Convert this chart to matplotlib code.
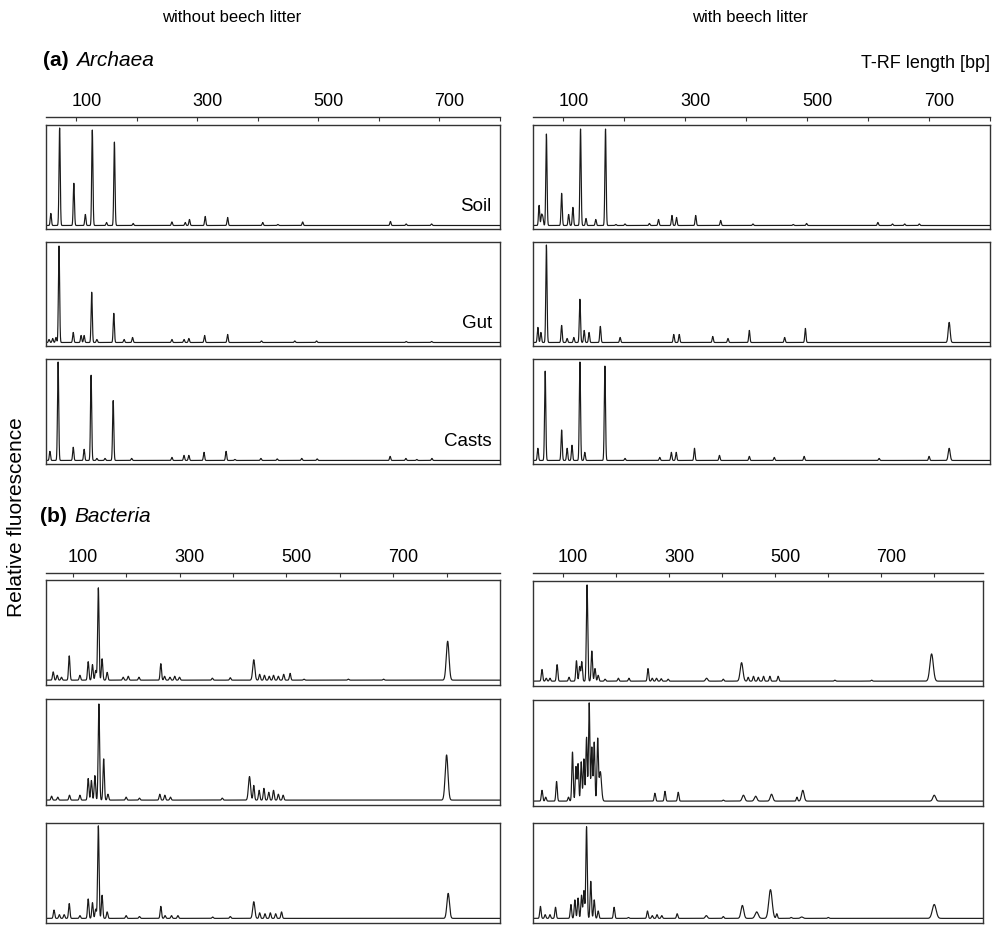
import numpy as np
import matplotlib
matplotlib.use("Agg")
import matplotlib.pyplot as plt
import matplotlib.transforms as mtransforms

plt.rcParams['font.family'] = ['Liberation Sans', 'DejaVu Sans']

# peaks: (T-RF length in bp, relative height[, width in bp])
arch_soil_wo = [(58, 0.12), (72.5, 0.97), (96, 0.42), (115, 0.11), (126.5, 0.95), (150, 0.03),
                (163, 0.83), (194, 0.02), (258, 0.035), (280, 0.03), (287, 0.06), (313, 0.09),
                (350, 0.08), (408, 0.03), (433, 0.01), (474, 0.035), (619, 0.04), (645, 0.015),
                (687, 0.015)]
arch_gut_wo = [(55, 0.03), (61, 0.04), (66.5, 0.05), (71.5, 0.96), (95, 0.1), (108, 0.07),
               (113, 0.07), (125.5, 0.5), (134, 0.03), (162, 0.29), (179, 0.03), (193, 0.05),
               (258, 0.03), (278, 0.03), (286, 0.04), (312, 0.07), (350, 0.08), (406, 0.015),
               (461, 0.015), (497, 0.015), (645, 0.01), (687, 0.01)]
arch_casts_wo = [(56.5, 0.09), (70, 0.97), (95, 0.13), (113, 0.11), (124.5, 0.84), (134, 0.02),
                 (147.5, 0.02), (161, 0.59), (191.5, 0.02), (258, 0.03), (278, 0.05), (286, 0.05),
                 (311, 0.08), (347.5, 0.09), (362, 0.01), (405, 0.02), (432, 0.015), (472.5, 0.02),
                 (498, 0.015), (618.5, 0.04), (644.5, 0.02), (662.5, 0.01), (687.5, 0.02)]
arch_soil_w = [(60, 0.2), (64, 0.1), (66, 0.08), (72, 0.91), (97, 0.32), (108.5, 0.11),
               (115.5, 0.18), (128, 0.96), (137, 0.07), (153, 0.06), (169, 0.96), (186, 0.01),
               (201, 0.015), (241, 0.02), (256, 0.06), (278, 0.1), (285.5, 0.08), (317, 0.1),
               (358, 0.05), (411, 0.015), (477, 0.01), (499, 0.02), (616, 0.03), (640, 0.015),
               (660, 0.015), (684, 0.015)]
arch_gut_w = [(58, 0.15), (63, 0.1), (72, 0.97), (97, 0.17), (106, 0.04), (117, 0.05),
              (127, 0.43), (134, 0.12), (142, 0.1), (160.5, 0.16), (193, 0.05), (281, 0.08),
              (290, 0.08), (345, 0.06), (370, 0.04), (405, 0.12), (463, 0.05), (497, 0.14),
              (733, 0.2, 1.6)]
arch_casts_w = [(58, 0.12), (70, 0.88), (97, 0.3), (106, 0.12), (114, 0.15), (127, 0.97),
                (135, 0.08), (168, 0.93), (201, 0.02), (258, 0.03), (277, 0.08), (285, 0.08),
                (315, 0.12), (356, 0.05), (405, 0.04), (446, 0.03), (495, 0.04), (618, 0.02),
                (700, 0.04), (733, 0.12, 1.6)]

bact_soil_wo = [(63.5, 0.085), (71, 0.05), (79, 0.03), (93.5, 0.25), (113.5, 0.05), (129, 0.19),
                (137, 0.16), (143, 0.1), (148, 0.95), (155, 0.22), (164.5, 0.08), (194.5, 0.03),
                (204, 0.04), (224, 0.03), (265, 0.17), (272, 0.04), (282, 0.03), (291, 0.04),
                (300, 0.03), (361.5, 0.02), (395, 0.025), (439, 0.21, 2.0), (450, 0.06),
                (459, 0.05), (468, 0.04), (476, 0.05), (485, 0.04), (495, 0.06), (507, 0.07),
                (533, 0.01), (616, 0.01), (682, 0.01), (802, 0.4, 2.6)]
bact_gut_wo = [(60.5, 0.04), (72, 0.03), (94, 0.05), (113.5, 0.05), (129, 0.22), (135, 0.2),
               (141.5, 0.25), (149, 0.98), (158, 0.42), (166, 0.06), (200, 0.03), (225, 0.02),
               (263, 0.06), (272.5, 0.05), (283, 0.03), (380, 0.02), (431, 0.24, 2.0), (439, 0.15),
               (449, 0.1), (458, 0.12), (467, 0.08), (476, 0.1), (485, 0.06), (494, 0.05),
               (800, 0.46, 2.6)]
bact_casts_wo = [(65, 0.09), (75, 0.04), (84, 0.04), (93.5, 0.16), (113.5, 0.03), (129, 0.21),
                 (137, 0.17), (143, 0.1), (148, 1.0), (155, 0.25), (164.5, 0.07), (200, 0.03),
                 (225, 0.02), (265, 0.13), (273, 0.03), (285, 0.03), (297, 0.03), (362, 0.015),
                 (395, 0.02), (439, 0.18, 2.0), (450, 0.06), (460, 0.05), (470, 0.06),
                 (480, 0.05), (491, 0.07), (803, 0.27, 2.4)]
bact_soil_w = [(60, 0.12), (68, 0.03), (75, 0.03), (88.5, 0.17), (111, 0.04), (125, 0.21),
               (131, 0.15), (135, 0.2), (145, 0.99), (154, 0.31), (160, 0.13), (166, 0.06),
               (179, 0.02), (204, 0.03), (224, 0.03), (260, 0.13), (268, 0.03), (276, 0.03),
               (285, 0.025), (298, 0.02), (370.5, 0.03, 2.0), (402, 0.02), (436.5, 0.19, 2.6),
               (449, 0.04), (459, 0.05), (468, 0.04), (478, 0.05), (490, 0.05), (505.5, 0.05),
               (612.5, 0.01), (682, 0.01), (795, 0.28, 3.2)]
bact_gut_w = [(60, 0.11), (67, 0.04), (87.5, 0.2), (110, 0.04), (117.5, 0.5), (124, 0.35),
              (128, 0.38), (134, 0.4), (139, 0.43), (144, 0.65), (149, 1.0), (154, 0.55),
              (158.5, 0.6), (165, 0.62), (170, 0.3, 2.2), (273, 0.08), (292, 0.1), (317, 0.09),
              (402, 0.01), (440, 0.06, 2.4), (463, 0.05, 2.4), (493, 0.07, 2.4), (541, 0.04),
              (552, 0.11, 2.4), (800, 0.06, 2.6)]
bact_casts_w = [(57, 0.13), (66, 0.04), (75, 0.04), (85.5, 0.12), (114.5, 0.15), (122, 0.2),
                (128, 0.22), (134.5, 0.25), (139, 0.3), (144, 0.99), (152, 0.4), (158.5, 0.2),
                (166, 0.08), (196, 0.12), (223, 0.01), (259, 0.08), (268, 0.03), (277, 0.04),
                (286, 0.03), (315, 0.05), (370, 0.03, 2.0), (402, 0.02), (438, 0.14, 2.6),
                (465, 0.07, 3.0), (491, 0.31, 3.2), (503, 0.05), (530, 0.01), (550, 0.015, 2.4),
                (600, 0.01), (800, 0.15, 3.6)]

sample_names = ["Soil", "Gut", "Casts"]
column_titles = ["without beech litter", "with beech litter"]
major_ticks = [100, 300, 500, 700]
minor_ticks = [200, 400, 600, 800]

W, H = 992, 925
fig = plt.figure(figsize=(W / 100, H / 100), dpi=100)


def rect(x0, y0, x1, y1):
    return [x0 / W, 1 - y1 / H, (x1 - x0) / W, (y1 - y0) / H]


def trace(ax, peaks, xlim, sigma):
    x = np.linspace(xlim[0], xlim[1], 6000)
    y = np.zeros_like(x)
    for p in peaks:
        s = p[2] if len(p) > 2 else sigma
        y += p[1] * np.exp(-0.5 * ((x - p[0]) / s) ** 2)
    ax.plot(x, y, color='#1a1a1a', lw=0.85)


def panel(box, peaks, xlim, ylim, sigma, label=None):
    ax = fig.add_axes(rect(*box))
    trace(ax, peaks, xlim, sigma)
    ax.set_xlim(*xlim)
    ax.set_ylim(*ylim)
    ax.set_xticks([])
    ax.set_yticks([])
    for s in ax.spines.values():
        s.set_linewidth(1.0)
        s.set_color('#333333')
    if label:
        ax.text(0.982, 0.13, label, transform=ax.transAxes, ha='right', va='bottom',
                fontsize=13.5)
    return ax


def scale(x0, x1, y, xlim):
    ax = fig.add_axes(rect(x0, y - 1, x1, y))
    ax.set_xlim(*xlim)
    ax.set_yticks([])
    for k in ['left', 'right', 'bottom']:
        ax.spines[k].set_visible(False)
    ax.spines['top'].set_linewidth(1.0)
    ax.spines['top'].set_color('#333333')
    ax.xaxis.tick_top()
    ax.set_xticks(major_ticks + minor_ticks)
    ax.set_xticklabels([])
    ax.tick_params(axis='x', direction='in', length=3, width=0.8, color='#333333')
    ax.patch.set_visible(False)
    # labels sit a little right of their ticks, as in the original
    tr = mtransforms.blended_transform_factory(ax.transData, ax.transAxes)
    tr = tr + mtransforms.ScaledTranslation(10 / 100, 11 / 100, fig.dpi_scale_trans)
    for t in major_ticks:
        ax.text(t, 1, str(t), transform=tr, ha='center', va='baseline', fontsize=13)


# (a) Archaea
arch_xlim = (50, 800)
arch_ylim = (-0.035, 1.0)
arch_rows = [(125, 229), (242, 346), (359, 464)]
arch_data = [[arch_soil_wo, arch_gut_wo, arch_casts_wo], [arch_soil_w, arch_gut_w, arch_casts_w]]
arch_cols = [(46, 500), (533, 990)]
for c, (x0, x1) in enumerate(arch_cols):
    scale(x0, x1, 118, arch_xlim)
    for r, (y0, y1) in enumerate(arch_rows):
        panel((x0, y0, x1, y1), arch_data[c][r], arch_xlim, arch_ylim, 1.0,
              sample_names[r] if c == 0 else None)

# (b) Bacteria
bact_ylim = (-0.05, 1.03)
bact_rows = [[(580, 685), (699, 805), (823, 923)], [(581, 686), (700, 806), (823, 923)]]
bact_data = [[bact_soil_wo, bact_gut_wo, bact_casts_wo], [bact_soil_w, bact_gut_w, bact_casts_w]]
bact_cols = [(46, 500, (50, 900)), (533, 983, (43, 892))]
for c, (x0, x1, xl) in enumerate(bact_cols):
    scale(x0, x1, 574, xl)
    for r, (y0, y1) in enumerate(bact_rows[c]):
        panel((x0, y0, x1, y1), bact_data[c][r], xl, bact_ylim, 1.3)

# titles and labels
fig.text(232 / W, 1 - 18 / H, column_titles[0], ha='center', va='center', fontsize=12)
fig.text(750 / W, 1 - 18 / H, column_titles[1], ha='center', va='center', fontsize=12)
fig.text(43 / W, 1 - 60 / H, "(a)", ha='left', va='center', fontsize=15, fontweight='bold')
fig.text(76 / W, 1 - 60 / H, "Archaea", ha='left', va='center', fontsize=15, style='italic')
fig.text(40 / W, 1 - 517 / H, "(b)", ha='left', va='center', fontsize=15, fontweight='bold')
fig.text(74 / W, 1 - 517 / H, "Bacteria", ha='left', va='center', fontsize=15, style='italic')
fig.text(990 / W, 1 - 64 / H, "T-RF length [bp]", ha='right', va='center', fontsize=13)
fig.text(17 / W, 1 - 517 / H, "Relative fluorescence", ha='center', va='center',
         rotation=90, fontsize=15)

fig.savefig("out.png", dpi=100)
